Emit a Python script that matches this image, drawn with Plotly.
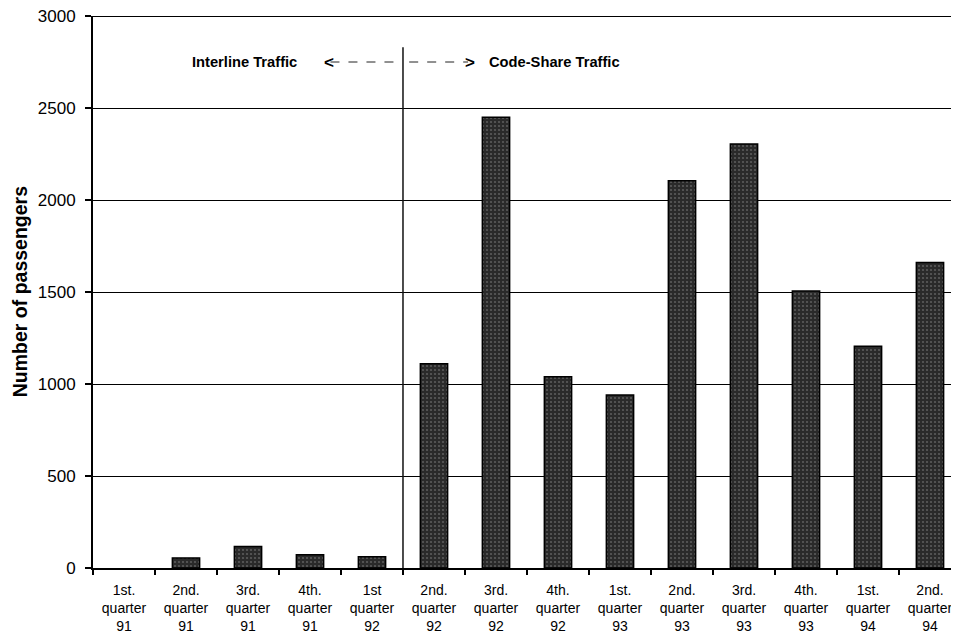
import plotly.graph_objects as go

quarters = ["1st.", "2nd.", "3rd.", "4th.", "1st", "2nd.", "3rd.", "4th.",
            "1st.", "2nd.", "3rd.", "4th.", "1st.", "2nd."]
years = ["91", "91", "91", "91", "92", "92", "92", "92",
         "93", "93", "93", "93", "94", "94"]
passengers = [0, 55, 117, 72, 61, 1110, 2450, 1040, 940, 2105, 2305, 1505, 1205, 1660]
y_ticks = [0, 500, 1000, 1500, 2000, 2500, 3000]

categories = [f"{q}<br>quarter<br>{y}" for q, y in zip(quarters, years)]

FONT = "Liberation Sans, Arial, sans-serif"

fig = go.Figure()
fig.add_trace(go.Bar(
    x=categories,
    y=passengers,
    marker=dict(
        color="#2a2a2a",
        line=dict(color="#000000", width=[0 if v == 0 else 1.5 for v in passengers]),
        pattern=dict(shape=".", fgcolor="#8c8c8c", bgcolor="#2a2a2a", size=4, solidity=0.22),
    ),
    width=0.44,
    showlegend=False,
))

# top frame line at 3000
fig.add_shape(type="line", xref="paper", yref="y", x0=0, x1=1, y0=3000, y1=3000,
              line=dict(color="#000000", width=2))
# Boundary between interline and code-share periods
fig.add_shape(type="line", xref="x", yref="y", x0=4.5, x1=4.5, y0=0, y1=2830,
              line=dict(color="#111111", width=1.5))
# dashed arrow shafts
fig.add_shape(type="line", xref="x", yref="y", x0=3.33, x1=4.4, y0=2750, y1=2750,
              line=dict(color="#222222", width=1, dash="dash"))
fig.add_shape(type="line", xref="x", yref="y", x0=4.6, x1=5.55, y0=2750, y1=2750,
              line=dict(color="#222222", width=1, dash="dash"))

fig.add_annotation(x=3.3, y=2750, xref="x", yref="y", text="<b>&lt;</b>", showarrow=False,
                   font=dict(family=FONT, size=17, color="#000"), xanchor="center", yanchor="middle")
fig.add_annotation(x=5.58, y=2750, xref="x", yref="y", text="<b>&gt;</b>", showarrow=False,
                   font=dict(family=FONT, size=17, color="#000"), xanchor="center", yanchor="middle")
fig.add_annotation(x=1.95, y=2750, xref="x", yref="y", text="<b>Interline Traffic</b>", showarrow=False,
                   font=dict(family=FONT, size=14.7, color="#000"), xanchor="center", yanchor="middle")
fig.add_annotation(x=6.95, y=2750, xref="x", yref="y", text="<b>Code-Share Traffic</b>", showarrow=False,
                   font=dict(family=FONT, size=14.7, color="#000"), xanchor="center", yanchor="middle")

# y-axis title
fig.add_annotation(x=-0.084, y=0.5, xref="paper", yref="paper", text="<b>Number of passengers</b>",
                   showarrow=False, textangle=-90, xanchor="center", yanchor="middle",
                   font=dict(family=FONT, size=19.5, color="#000"))

# page body has an 8px default margin, so the figure is sized to fit the window
fig.update_layout(
    width=951, height=626,
    margin=dict(l=85, r=0, t=8, b=66, autoexpand=False),
    paper_bgcolor="white", plot_bgcolor="white",
    font=dict(family=FONT, size=14, color="#000"),
    bargap=0.56,
)
fig.update_xaxes(
    type="category",
    automargin=False,
    range=[-0.5, 13.468],
    showline=True, linecolor="#000", linewidth=2,
    ticks="outside", tickson="boundaries", ticklen=5, tickwidth=1.5, tickcolor="#000",
    showgrid=False,
    tickfont=dict(family=FONT, size=14, color="#000"),
    ticklabelstandoff=8,
    ticklabeloverflow="allow",
)
fig.update_yaxes(
    automargin=False,
    range=[0, 3000],
    tickvals=y_ticks,
    ticktext=[str(v) for v in y_ticks],
    showline=True, linecolor="#000", linewidth=2,
    ticks="outside", ticklen=6, tickwidth=1.5, tickcolor="#000",
    showgrid=True, gridcolor="#000", gridwidth=1.3,
    zeroline=False,
    tickfont=dict(family=FONT, size=17, color="#000"),
    ticklabelstandoff=6,
    ticklabeloverflow="allow",
)

fig.write_html("out.html")
